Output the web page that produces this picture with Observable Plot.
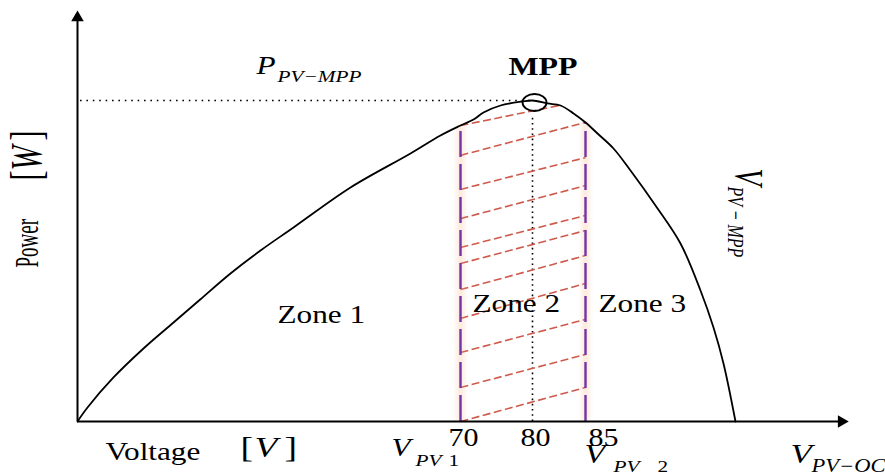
<!DOCTYPE html>
<html>
<head>
<meta charset="utf-8">
<script src="https://cdn.jsdelivr.net/npm/d3@7"></script>
<script src="https://cdn.jsdelivr.net/npm/@observablehq/plot@0.6"></script>
<style>
  body { margin: 0; background: #fff; }
  g[aria-description="boundary glow"] { filter: blur(2.5px); }
</style>
</head>
<body>
<div id="chart"></div>
<script>
// P–V characteristic of a photovoltaic source, split into three operating zones.

// Power curve (voltage in V, power in W; MPP normalised to 100)
const voltage = [0, 1.83, 6.58, 12.06, 17.55, 22.48, 27.96, 33.45, 39.48, 49.9, 60.86, 66.34, 70, 71.81, 73.19, 75.56, 78.61, 80, 81.42, 82.64, 83.87, 85, 86.2, 87.8, 89.5, 92.0, 94.5, 96.5, 97.8, 98.8, 100];
const power   = [0, 4.36, 13.71, 22.74, 30.84, 38.1, 46.11, 53.27, 60.44, 72.9, 83.49, 89.1, 92.21, 94.08, 96.26, 98.44, 99.69, 100, 99.07, 98.44, 95.95, 93.15, 89.72, 85.05, 78.19, 67.29, 55.45, 40.81, 29.28, 18.07, 0];

// Maximum power point
const mppVoltage = 80;
const mppPower = 100;

// Zone 2 limits (V_PV1, V_PV2) and where they meet the curve
const zoneBounds = [70, 85];
const zoneBoundTop = [92.2, 93.15];

// Hatching inside zone 2: left end power at V_PV1, right end voltage / power
const hatchLeftP  = [92.2, 82.9, 72.3, 63.2, 54.2, 49.2, 41.1, 32.1, 21.5, 10.6, 0];
const hatchRightV = [82.45, 85, 85, 85, 85, 85, 85, 85, 85, 85, 85];
const hatchRightP = [98.4, 93.2, 82.2, 73.5, 64.2, 59.5, 51.7, 43.0, 31.8, 20.9, 10.6];

// Tick labels on the voltage axis
const tickCenter = [70, 80];
const tickStart = [85];

// Axis extents (arrow tips)
const vMax = 110.6;
const pMax = 125.8;

const curve = voltage.map((v, i) => ({v, p: power[i]}));
const hatch = hatchLeftP.map((p, i) => ({v1: zoneBounds[0], p1: p, v2: hatchRightV[i], p2: hatchRightP[i]}));
const bounds = zoneBounds.map((v, i) => ({v, top: zoneBoundTop[i]}));

const serif = "Liberation Serif";

// Ellipse marker for the MPP
const ellipse = {
  draw(ctx, size) {
    const r = Math.sqrt(size / Math.PI), rx = r * 1.2, ry = r * 0.85, k = 0.5523;
    ctx.moveTo(rx, 0);
    ctx.bezierCurveTo(rx, ry * k, rx * k, ry, 0, ry);
    ctx.bezierCurveTo(-rx * k, ry, -rx, ry * k, -rx, 0);
    ctx.bezierCurveTo(-rx, -ry * k, -rx * k, -ry, 0, -ry);
    ctx.bezierCurveTo(rx * k, -ry, rx, -ry * k, rx, 0);
    ctx.closePath();
  }
};

// Text annotations; the type is drawn widened across its height or width
const stretch = new Map();
let labelCount = 0;
function label(text, v, p, {sx = 1.25, sy = 1, ...o} = {}) {
  const id = `annotation ${labelCount++}`;
  stretch.set(id, [sx, sy]);
  return Plot.text([text], {
    x: [v], y: [p], text: (d) => d,
    textAnchor: "start", lineAnchor: "bottom",
    fontFamily: serif, fontSize: 25, fill: "black", ariaDescription: id, ...o
  });
}
const it = {fontStyle: "italic"};

const svg = Plot.plot({
  width: 885,
  height: 474,
  marginTop: 8,
  marginBottom: 53,
  marginLeft: 77,
  marginRight: 35,
  style: {fontFamily: serif, background: "white", overflow: "visible"},
  // piecewise voltage axis: the operating region around the MPP is drawn wider
  x: {type: "linear", domain: [0, 70, 80, 85, 100, 111.5], range: [77, 460, 532, 585, 735, 850]},
  y: {type: "linear", domain: [0, 128.66], range: [421, 8], axis: null},
  marks: [
    // guide lines to the MPP
    Plot.ruleY([mppPower], {x1: 0.55, x2: mppVoltage, stroke: "black", strokeWidth: 1.6, strokeDasharray: "1.6,4.8"}),
    Plot.ruleX([mppVoltage], {y1: 0, y2: 95.3, stroke: "black", strokeWidth: 1.6, strokeDasharray: "1.6,3.6"}),

    // zone 2 hatching
    Plot.link(hatch, {x1: "v1", y1: "p1", x2: "v2", y2: "p2", stroke: "#cf5a4c", strokeWidth: 1.6, strokeDasharray: "8,3.5"}),

    // zone limits with soft glow
    Plot.ruleX(bounds, {x: "v", y1: 0, y2: "top", stroke: "#f6b080", strokeWidth: 7, strokeOpacity: 0.3, ariaDescription: "boundary glow"}),
    Plot.ruleX(bounds, {x: "v", y1: 0, y2: "top", stroke: "#7434a8", strokeWidth: 2.4, strokeDasharray: "26,7"}),

    // P–V curve
    Plot.line(curve, {x: "v", y: "p", curve: "catmull-rom", stroke: "black", strokeWidth: 1.8}),

    // MPP marker
    Plot.dot([{v: 80.19, p: 99.38}], {x: "v", y: "p", r: 10, symbol: ellipse, stroke: "black", strokeWidth: 1.8, fill: "none"}),

    // axes with arrowheads
    Plot.ruleX([0], {y1: 0, y2: pMax, stroke: "black", strokeWidth: 2}),
    Plot.ruleY([0], {x1: 0, x2: vMax, stroke: "black", strokeWidth: 2}),
    Plot.dot([{v: 0, p: pMax}], {x: "v", y: "p", symbol: "triangle2", r: 6, fill: "black"}),
    Plot.dot([{v: vMax, p: 0}], {x: "v", y: "p", symbol: "triangle2", r: 6, rotate: 90, fill: "black"}),

    Plot.axisX(tickCenter, {tickSize: 0, tickPadding: 7, fontFamily: serif, fontSize: 25, dx: 3, label: null, fill: "black"}),
    Plot.axisX(tickStart, {tickSize: 0, tickPadding: 7, fontFamily: serif, fontSize: 25, dx: 3, textAnchor: "start", label: null, fill: "black"}),

    // annotations
    label("P", 32.72, 108.4, {...it, fontSize: 25}),
    label("PV−MPP", 36.55, 105.9, {...it, fontSize: 17}),
    label("MPP", 76.67, 107.8, {fontWeight: "bold", fontSize: 25.5}),
    label("Zone 1", 36.55, 30.84),
    label("Zone 2", 71.67, 33.96),
    label("Zone 3", 86.3, 33.96),

    label("V", 100, 78.8, {...it, rotate: 90, fontSize: 28, sx: 1, sy: 1.45}),
    label("PV − MPP", 99.2, 73.2, {...it, rotate: 90, fontSize: 16, sx: 1, sy: 1.5}),

    label("Power", -7.31, 47.98, {rotate: -90, fontSize: 19, sx: 1, sy: 1.8}),
    label("[", -6.76, 75.08, {rotate: -90, fontSize: 30, sx: 1, sy: 1.48}),
    label("W", -6.76, 78.19, {...it, rotate: -90, fontSize: 30, sx: 1, sy: 1.48}),
    label("]", -6.76, 87.54, {rotate: -90, fontSize: 30, sx: 1, sy: 1.48}),

    label("Voltage", 5.12, -11.84),
    label("[", 29.79, -11.21, {fontSize: 30}),
    label("V", 32.35, -11.21, {...it, fontSize: 30}),
    label("]", 37.83, -11.21, {fontSize: 30}),

    label("V", 57.39, -10.9, {...it, fontSize: 25}),
    label("PV", 61.78, -13.71, {...it, fontSize: 17}),
    label("1", 67.81, -13.71, {fontSize: 17}),

    label("V", 84.91, -13.08, {...it, fontSize: 27}),
    label("PV", 87.8, -15.58, {...it, fontSize: 17}),
    label("2", 92.2, -15.58, {fontSize: 17}),

    label("V", 105.5, -13.08, {...it, fontSize: 28}),
    label("PV−OC", 107.6, -15.58, {...it, fontSize: 18})
  ]
});

// widen glyphs of the annotation and tick texts
function widen(groups, sx, sy) {
  groups.forEach((g) => g.querySelectorAll("text").forEach((t) => {
    let tr = t.getAttribute("transform");
    if (!tr) {
      tr = `translate(${t.getAttribute("x") || 0},${t.getAttribute("y") || 0})`;
      t.removeAttribute("x");
      t.removeAttribute("y");
    }
    t.setAttribute("transform", `${tr} scale(${sx},${sy})`);
  }));
}
for (const [id, [sx, sy]] of stretch) widen(svg.querySelectorAll(`g[aria-description="${id}"]`), sx, sy);
widen(svg.querySelectorAll(`g[aria-label="x-axis tick label"]`), 1.2, 1);

document.getElementById("chart").append(svg);
</script>
</body>
</html>
